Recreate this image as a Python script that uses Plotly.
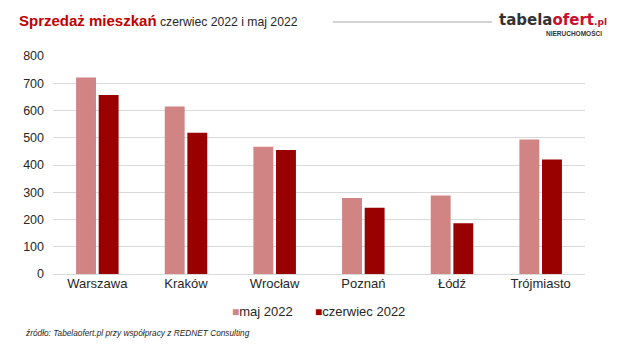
import plotly.graph_objects as go

# Apartment sales per city, May vs June 2022
cities = ["Warszawa", "Kraków", "Wrocław", "Poznań", "Łódź", "Trójmiasto"]
sales_may = [721, 615, 467, 279, 288, 494]
sales_june = [657, 518, 455, 243, 186, 420]
y_ticks = [0, 100, 200, 300, 400, 500, 600, 700, 800]
series_names = ["maj 2022", "czerwiec 2022"]

FONT = "Liberation Sans, Arial, sans-serif"
COL_MAY = "#D08484"
COL_JUNE = "#990000"

# Plot area in pixels, used to place header/footer items in paper coordinates
L, R, T, B = 53, 585, 56, 274
W, H = R - L, B - T


def px(x):
    return (x - L) / W


def py(y):
    return (B - y) / H


fig = go.Figure()
fig.add_trace(go.Bar(name=series_names[0], x=cities, y=sales_may, marker_color=COL_MAY,
                     marker_line_width=0, showlegend=False))
fig.add_trace(go.Bar(name=series_names[1], x=cities, y=sales_june, marker_color=COL_JUNE,
                     marker_line_width=0, showlegend=False))

fig.update_layout(
    width=620, height=348,
    margin=dict(l=L, r=620 - R, t=T, b=348 - B),
    paper_bgcolor="white", plot_bgcolor="white",
    barmode="group", bargap=0.49, bargroupgap=0.12,
    font=dict(family=FONT, color="#262626", size=12),
    xaxis=dict(showgrid=False, showline=False, ticks="",
               tickfont=dict(size=13, color="#262626")),
    yaxis=dict(range=[0, 800], tickvals=y_ticks, showgrid=True, gridcolor="#D9D9D9",
               gridwidth=1, zeroline=True, zerolinecolor="#D9D9D9", zerolinewidth=1,
               showline=False, ticks="", ticklabelstandoff=8,
               tickfont=dict(size=12.5, color="#262626")),
)

# Legend row with small square keys
for name, col, x0 in [(series_names[0], COL_MAY, 230), (series_names[1], COL_JUNE, 313)]:
    fig.add_annotation(
        xref="paper", yref="paper", x=px(x0), y=py(311), xanchor="left", yanchor="middle",
        text=f"<span style='color:{col};font-size:12px'>■</span>{name}",
        showarrow=False, font=dict(family=FONT, size=13, color="#262626"),
    )

# Header: title, divider line and logo
fig.add_annotation(
    xref="paper", yref="paper", x=px(17), y=py(20), xanchor="left", yanchor="middle",
    text="<b><span style='color:#C00000;font-size:15px'>Sprzedaż mieszkań</span></b>"
         "<span style='font-size:12.2px;color:#262626'> czerwiec 2022 i maj 2022</span>",
    showarrow=False, font=dict(family=FONT),
)
fig.add_shape(type="line", xref="paper", yref="paper",
              x0=px(333), x1=px(492), y0=py(22), y1=py(22),
              line=dict(color="#A6A6A6", width=1))
fig.add_annotation(
    xref="paper", yref="paper", x=px(497), y=py(20),
    xanchor="left", yanchor="middle",
    text="<b><span style='color:#333333'>tabela</span><span style='color:#C8102E'>ofert</span>"
         "<span style='color:#C8102E;font-size:9px'>.pl</span></b>",
    showarrow=False, font=dict(family="DejaVu Sans, sans-serif", size=15),
)
fig.add_annotation(
    xref="paper", yref="paper", x=px(604), y=py(33),
    xanchor="right", yanchor="middle",
    text="<b>NIERUCHOMOŚCI</b>", showarrow=False,
    font=dict(family=FONT, size=6.5, color="#333333"),
)

# Source note
fig.add_annotation(
    xref="paper", yref="paper", x=px(23), y=py(333),
    xanchor="left", yanchor="middle",
    text="<i>źródło: Tabelaofert.pl przy współpracy z REDNET Consulting</i>",
    showarrow=False, font=dict(family=FONT, size=8.3, color="#262626"),
)

fig.write_html("out.html")
